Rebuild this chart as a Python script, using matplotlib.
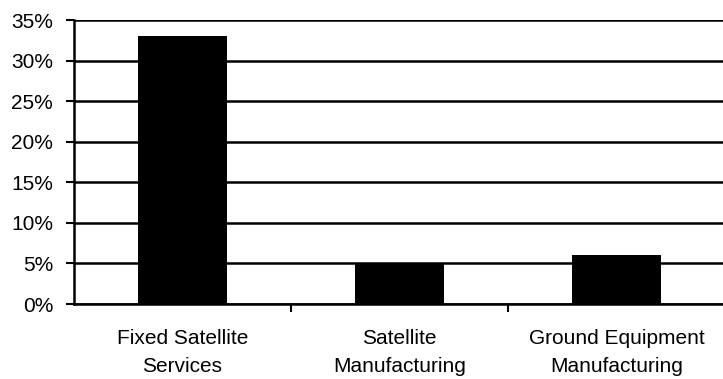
import matplotlib.pyplot as plt
from matplotlib.ticker import FuncFormatter

categories = ['Fixed Satellite\nServices', 'Satellite\nManufacturing', 'Ground Equipment\nManufacturing']
shares = [33.0, 4.9, 6.1]
yticks = [0, 5, 10, 15, 20, 25, 30, 35]

plt.rcParams['font.family'] = ['Liberation Sans', 'DejaVu Sans']

fig = plt.figure(figsize=(7.23, 3.79), dpi=100)
ax = fig.add_axes([74 / 723, 75 / 379, 651 / 723, 284 / 379])

ax.set_axisbelow(True)
ax.yaxis.grid(True, color='black', linewidth=1.8)
ax.bar(range(len(categories)), shares, width=0.41, color='black', zorder=3)

ax.set_xlim(-0.5, len(categories) - 0.5)
ax.set_ylim(0, 35)
ax.set_yticks(yticks)
ax.yaxis.set_major_formatter(FuncFormatter(lambda v, p: f'{v:.0f}%'))

# category labels sit between boundary ticks
ax.set_xticks([0.5, 1.5])
ax.set_xticklabels([])
ax.set_xticks(range(len(categories)), minor=True)
ax.set_xticklabels(categories, minor=True, fontsize=15, linespacing=1.58)
ax.tick_params(axis='x', which='minor', length=0, pad=18)
ax.tick_params(axis='x', which='major', length=6, width=1.5, direction='out')
ax.tick_params(axis='y', length=6, width=1.5, labelsize=15, pad=9)

for side in ['top', 'right']:
    ax.spines[side].set_visible(False)
ax.spines['left'].set_linewidth(1.8)
ax.spines['bottom'].set_linewidth(1.8)

fig.savefig('out.png', dpi=100)
